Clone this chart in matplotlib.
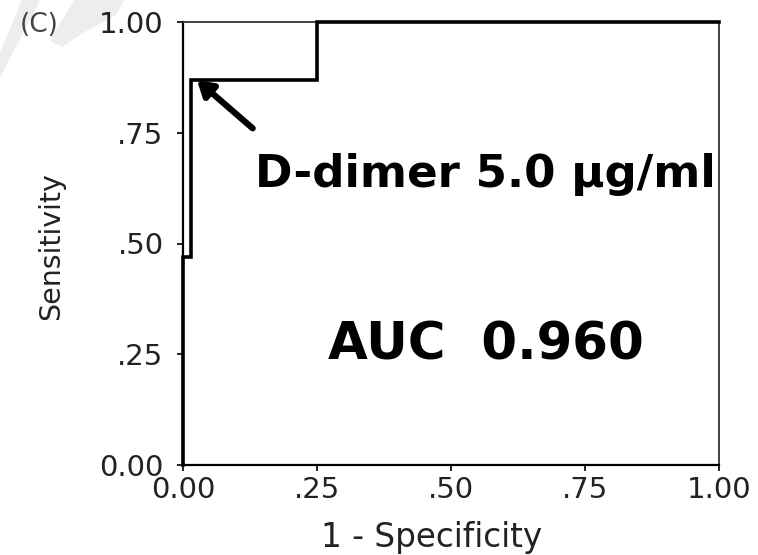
import matplotlib.pyplot as plt
from matplotlib.patches import Polygon

# ROC curve steps
fpr = [0.0, 0.0, 0.015, 0.015, 0.25, 0.25, 1.0]
tpr = [0.0, 0.47, 0.47, 0.87, 0.87, 1.0, 1.0]

tick_vals = [0.0, 0.25, 0.5, 0.75, 1.0]
tick_labels = ["0.00", ".25", ".50", ".75", "1.00"]

cutoff_point = (0.026, 0.869)
cutoff_label = "D-dimer 5.0 \u03bcg/ml"
auc_label = "AUC  0.960"

W, H = 758, 555

plt.rcParams["font.family"] = ["DejaVu Sans"]

fig = plt.figure(figsize=(W / 100, H / 100), dpi=100)


def px(pts):
    # pixel coords (from top-left) -> figure fraction
    return [(x / W, 1 - y / H) for x, y in pts]


# faint watermark fragments in the top-left corner
for shape in ([(0, 52), (22, 0), (40, 0), (0, 78)],
              [(74, 0), (124, 0), (116, 15), (88, 30), (62, 47), (50, 41)]):
    fig.patches.append(Polygon(px(shape), closed=True, transform=fig.transFigure,
                               facecolor="#ededed", edgecolor="none", zorder=-5))

ax = fig.add_axes([183 / W, 1 - 465 / H, 536 / W, 443 / H])
ax.patch.set_alpha(0)

ax.plot(fpr, tpr, color="black", lw=2.6, solid_joinstyle="miter", clip_on=False, zorder=3)

ax.set_xlim(0, 1)
ax.set_ylim(0, 1)
ax.set_xticks(tick_vals)
ax.set_xticklabels(tick_labels)
ax.set_yticks(tick_vals)
ax.set_yticklabels(tick_labels)
ax.tick_params(length=4, width=1.4, labelsize=21, colors="#222222")
ax.tick_params(axis="x", pad=4)
ax.tick_params(axis="y", pad=10)

for side in ["left", "bottom"]:
    ax.spines[side].set_linewidth(1.6)
    ax.spines[side].set_color("black")
for side in ["top", "right"]:
    ax.spines[side].set_linewidth(1.3)
    ax.spines[side].set_color("#333333")

ax.set_xlabel("1 - Specificity", fontsize=23.5, color="#222222", va="center")
ax.xaxis.set_label_coords((432 - 183) / 536, (465 - 538) / 443)
ax.set_ylabel("Sensitivity", fontsize=20.5, color="#222222", va="center")
ax.yaxis.set_label_coords((51 - 183) / 536, (465 - 246) / 443)

ax.annotate(
    "",
    xy=cutoff_point,
    xytext=(0.13, 0.76),
    arrowprops=dict(arrowstyle="-|>,head_length=0.9,head_width=0.55", lw=4.5, color="black",
                    shrinkA=0, shrinkB=0),
)
ax.text(0.135, 0.655, cutoff_label, fontsize=32.5, fontweight="bold", va="center", ha="left")
ax.text(0.27, 0.27, auc_label, fontsize=37, fontweight="bold", va="center", ha="left")

fig.text(20 / W, 1 - 25 / H, "(C)", fontsize=19, color="#444444", va="center", ha="left")

fig.savefig("out.png", dpi=100)
